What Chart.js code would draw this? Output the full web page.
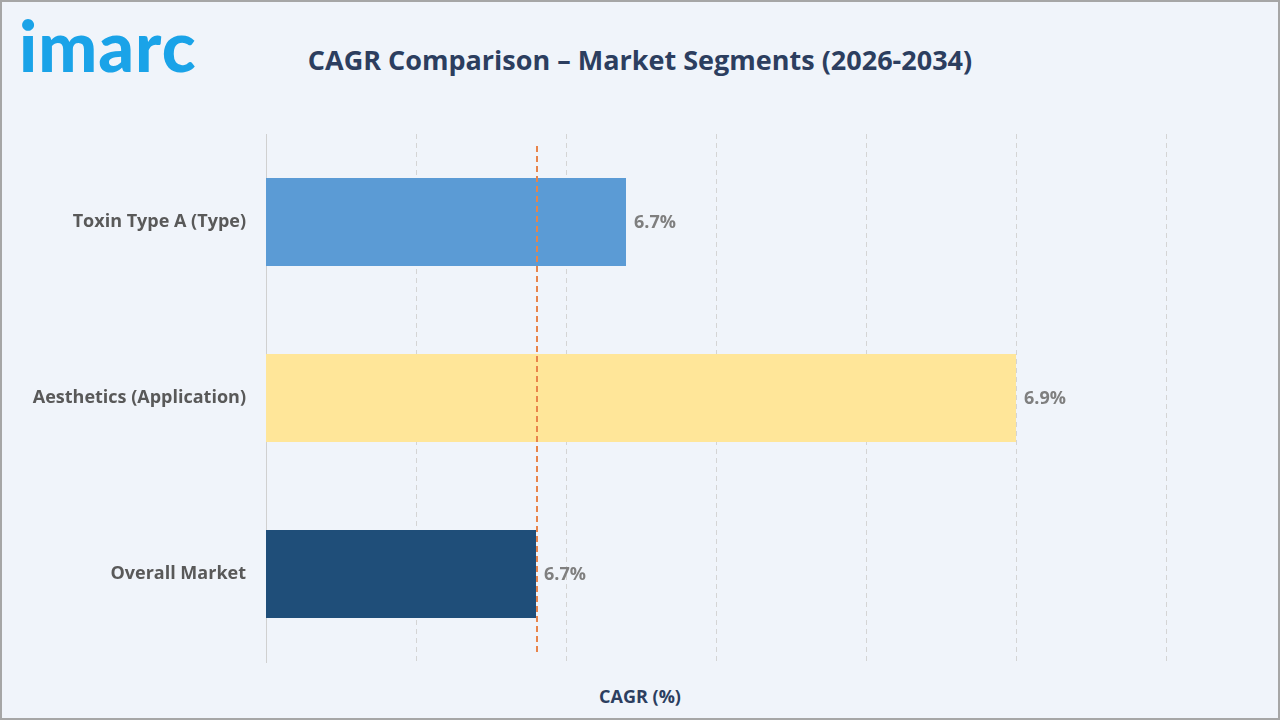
<!DOCTYPE html>
<html>
<head>
<meta charset="utf-8">
<script src="https://cdn.jsdelivr.net/npm/chart.js@4/dist/chart.umd.min.js"></script>
<style>
  html, body { margin: 0; padding: 0; }
  body { width: 1280px; height: 720px; position: relative; background: #f0f4fa; overflow: hidden; }
  #frame { position: absolute; left: 0; top: 0; width: 1276px; height: 716px; border: 2px solid #a6a6a6; }
  #logo { position: absolute; left: 19px; top: 3px; font-family: Lato, "Open Sans", sans-serif; font-weight: 900;
          font-size: 70px; color: #1aa3e8; letter-spacing: 1px; }
  #title { position: absolute; left: 0; width: 1280px; top: 41px; text-align: center;
           font-family: "Open Sans", sans-serif; font-weight: 700; font-size: 27px; color: #2c3e5f; }
  #xtitle { position: absolute; left: 0; width: 1280px; top: 684px; text-align: center;
            font-family: "Open Sans", sans-serif; font-weight: 700; font-size: 18px; color: #2c3e5f; }
  #wrap { position: absolute; left: 0; top: 0; width: 1280px; height: 720px; }
</style>
</head>
<body>
<div id="frame"></div>
<div id="logo">imarc</div>
<div id="title">CAGR Comparison – Market Segments (2026-2034)</div>
<div id="xtitle">CAGR (%)</div>
<div id="wrap"><canvas id="chart"></canvas></div>
<script>
// segmentos y su CAGR
const segments = ['Toxin Type A (Type)', 'Aesthetics (Application)', 'Overall Market'];
const cagr = [6.7375, 6.9, 6.7];
const barColors = ['#5b9bd5', '#ffe699', '#1f4e79'];
const marketLine = 6.7;  // linea punteada = mercado total

// eje x sin etiquetas, 6 intervalos
const xMin = 6.5875;
const xStep = 0.0625;
const xSteps = 6;

const valueLabels = {
  id: 'valueLabels',
  afterDatasetsDraw(chart) {
    const ctx = chart.ctx;
    const meta = chart.getDatasetMeta(0);
    ctx.save();
    ctx.font = 'bold 18px "Open Sans", sans-serif';
    ctx.fillStyle = '#7f7f7f';
    ctx.textAlign = 'left';
    ctx.textBaseline = 'middle';
    meta.data.forEach((bar, i) => {
      ctx.fillText(cagr[i].toFixed(1) + '%', bar.x + 8, bar.y + 1);
    });
    ctx.restore();
  }
};

const refLine = {
  id: 'refLine',
  afterDatasetsDraw(chart) {
    const ctx = chart.ctx;
    const x = chart.scales.x.getPixelForValue(marketLine) + 1;
    ctx.save();
    ctx.strokeStyle = '#e8844a';
    ctx.lineWidth = 2;
    ctx.setLineDash([6, 4]);
    ctx.beginPath();
    ctx.moveTo(x, chart.chartArea.top + 12);
    ctx.lineTo(x, chart.chartArea.bottom - 10);
    ctx.stroke();
    ctx.restore();
  }
};

new Chart(document.getElementById('chart'), {
  type: 'bar',
  data: {
    labels: segments,
    datasets: [{
      data: cagr,
      backgroundColor: barColors,
      borderWidth: 0,
      barPercentage: 0.5,
      categoryPercentage: 1.0
    }]
  },
  plugins: [valueLabels, refLine],
  options: {
    indexAxis: 'y',
    responsive: true,
    maintainAspectRatio: false,
    animation: false,
    layout: { padding: { left: 0, right: 114, top: 134, bottom: 58 } },
    plugins: {
      legend: { display: false },
      tooltip: { enabled: false }
    },
    scales: {
      x: {
        min: xMin,
        max: xMin + xStep * xSteps,
        afterBuildTicks: (scale) => {
          scale.ticks = Array.from({ length: xSteps + 1 }, (_, i) => ({ value: xMin + i * xStep }));
        },
        afterFit: (scale) => { scale.height = 0; },
        ticks: { display: false },
        border: { display: false, dash: [5, 4] },
        grid: {
          color: (c) => c.index === 0 ? 'rgba(0,0,0,0)' : '#d4d4d4',
          lineWidth: 1,
          drawTicks: false
        }
      },
      y: {
        afterFit: (scale) => { scale.width = 266; },
        grid: { display: false, drawTicks: false },
        border: { display: true, color: '#d0d0d0', width: 1 },
        ticks: {
          padding: 20,
          color: '#595959',
          font: { family: '"Open Sans", sans-serif', size: 18, weight: 'bold' }
        }
      }
    }
  }
});
</script>
</body>
</html>
